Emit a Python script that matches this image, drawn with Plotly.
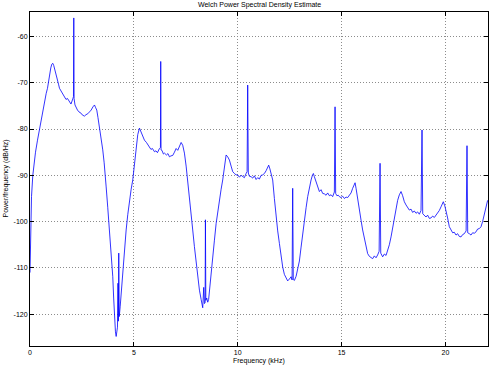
import plotly.graph_objects as go

# Frequency (kHz) and PSD (dB/Hz)
freq_khz = [
    0.000, 0.024, 0.072, 0.135, 0.202, 0.265, 0.361, 0.457, 0.520, 0.616,
    0.683, 0.780, 0.842, 0.938, 1.001, 1.049, 1.097, 1.145, 1.203, 1.261,
    1.323, 1.372, 1.420, 1.492, 1.564, 1.660, 1.732, 1.805, 1.901, 1.973,
    2.060, 2.093, 2.108, 2.122, 2.166, 2.223, 2.286, 2.358, 2.464, 2.527,
    2.623, 2.695, 2.782, 2.863, 2.945, 3.032, 3.104, 3.162, 3.215, 3.272,
    3.345, 3.426, 3.503, 3.571, 3.633, 3.667, 3.744, 3.826, 3.908, 3.985,
    4.028, 4.066, 4.114, 4.148, 4.177, 4.211, 4.235, 4.254, 4.273, 4.297,
    4.341, 4.403, 4.466, 4.548, 4.629, 4.706, 4.788, 4.870, 4.947, 5.029,
    5.111, 5.188, 5.270, 5.351, 5.428, 5.510, 5.606, 5.679, 5.751, 5.823,
    5.895, 5.991, 6.064, 6.136, 6.232, 6.280, 6.294, 6.309, 6.352, 6.424,
    6.473, 6.569, 6.641, 6.713, 6.785, 6.872, 6.954, 7.036, 7.113, 7.194,
    7.276, 7.353, 7.435, 7.517, 7.594, 7.676, 7.758, 7.834, 7.916, 7.998,
    8.075, 8.157, 8.239, 8.316, 8.364, 8.398, 8.431, 8.446, 8.465, 8.508,
    8.556, 8.600, 8.638, 8.720, 8.797, 8.879, 8.961, 9.038, 9.119, 9.201,
    9.278, 9.360, 9.442, 9.519, 9.601, 9.682, 9.759, 9.841, 9.923, 10.000,
    10.082, 10.163, 10.240, 10.322, 10.404, 10.452, 10.481, 10.510, 10.563, 10.645,
    10.722, 10.804, 10.886, 10.962, 11.044, 11.126, 11.203, 11.285, 11.367, 11.429,
    11.492, 11.550, 11.607, 11.684, 11.766, 11.848, 11.925, 12.007, 12.089, 12.166,
    12.247, 12.329, 12.406, 12.488, 12.570, 12.618, 12.647, 12.676, 12.729, 12.811,
    12.888, 12.970, 13.051, 13.128, 13.210, 13.292, 13.369, 13.451, 13.532, 13.595,
    13.643, 13.691, 13.773, 13.850, 13.932, 14.013, 14.090, 14.172, 14.254, 14.331,
    14.413, 14.495, 14.572, 14.653, 14.687, 14.716, 14.774, 14.846, 14.894, 14.976,
    15.053, 15.135, 15.217, 15.293, 15.375, 15.457, 15.534, 15.616, 15.650, 15.698,
    15.775, 15.857, 15.938, 16.015, 16.097, 16.179, 16.256, 16.338, 16.420, 16.497,
    16.578, 16.660, 16.737, 16.809, 16.853, 16.886, 16.978, 17.060, 17.142, 17.219,
    17.300, 17.382, 17.459, 17.541, 17.623, 17.700, 17.782, 17.863, 17.940, 18.022,
    18.104, 18.181, 18.263, 18.345, 18.421, 18.503, 18.585, 18.662, 18.744, 18.826,
    18.874, 18.907, 18.985, 19.066, 19.143, 19.225, 19.307, 19.384, 19.466, 19.548,
    19.625, 19.706, 19.788, 19.851, 19.899, 19.971, 20.029, 20.106, 20.188, 20.270,
    20.347, 20.429, 20.510, 20.587, 20.669, 20.751, 20.828, 20.910, 20.996, 21.039,
    21.073, 21.150, 21.232, 21.309, 21.391, 21.473, 21.550, 21.632, 21.713, 21.790,
    21.872, 21.954, 22.032,
]

psd_db = [
    -111.0, -101.0, -94.6, -90.0, -87.3, -85.0, -82.4, -80.0, -78.7, -75.9,
    -75.1, -72.3, -71.2, -67.8, -66.8, -66.0, -65.8, -66.3, -67.5, -68.7,
    -69.6, -70.3, -71.2, -71.8, -72.4, -73.0, -73.6, -73.4, -74.1, -74.6,
    -73.5, -73.0, -56.0, -73.4, -74.8, -75.5, -75.9, -76.3, -76.6, -77.0,
    -77.2, -76.9, -76.7, -76.3, -75.9, -75.2, -74.8, -75.4, -75.9, -77.5,
    -79.5, -82.0, -84.5, -87.3, -90.0, -92.5, -97.0, -101.8, -106.5, -111.9,
    -116.5, -121.3, -123.8, -124.8, -124.0, -122.8, -113.3, -121.5, -106.8, -120.5,
    -118.4, -114.5, -111.2, -106.5, -101.8, -98.5, -95.4, -93.0, -91.0, -87.5,
    -83.8, -81.2, -79.8, -80.6, -81.5, -82.4, -82.9, -83.5, -83.8, -84.4,
    -84.2, -84.9, -84.7, -85.1, -84.2, -84.0, -65.4, -84.5, -84.6, -85.4,
    -85.2, -85.6, -85.3, -86.0, -85.8, -85.7, -85.0, -84.2, -84.6, -83.6,
    -82.9, -83.5, -85.2, -88.0, -91.0, -94.6, -98.2, -101.8, -105.4, -109.0,
    -112.0, -114.8, -116.8, -118.6, -114.2, -117.7, -117.5, -99.6, -117.0, -116.5,
    -117.4, -116.8, -114.8, -111.5, -107.6, -104.0, -100.4, -97.8, -95.4, -93.0,
    -91.0, -87.8, -85.6, -86.0, -86.7, -88.0, -89.2, -89.6, -89.9, -89.9,
    -90.4, -90.0, -90.3, -90.5, -89.6, -89.2, -70.5, -89.5, -90.2, -90.3,
    -90.6, -90.1, -90.9, -90.5, -90.8, -90.0, -89.9, -89.6, -89.0, -88.2,
    -87.8, -88.6, -89.5, -91.0, -95.0, -99.0, -102.0, -104.7, -107.4, -109.8,
    -111.4, -112.3, -112.8, -112.4, -111.9, -112.6, -92.8, -112.5, -112.7, -111.8,
    -110.5, -108.5, -105.5, -102.5, -99.7, -97.0, -94.6, -92.5, -91.0, -90.0,
    -89.6, -90.3, -91.4, -92.2, -93.5, -93.1, -93.9, -94.0, -94.3, -93.8,
    -94.4, -94.2, -94.6, -93.6, -75.2, -93.9, -94.4, -94.3, -94.6, -94.8,
    -94.5, -95.0, -94.7, -94.8, -94.3, -93.8, -92.8, -92.1, -91.6, -92.8,
    -95.4, -98.0, -99.7, -101.8, -103.6, -105.4, -106.9, -107.5, -107.8, -108.0,
    -107.4, -107.8, -107.2, -106.4, -87.4, -106.8, -107.6, -107.0, -107.3, -106.2,
    -105.0, -103.3, -101.3, -99.0, -97.2, -95.4, -94.2, -93.5, -94.4, -95.7,
    -96.4, -97.0, -97.5, -97.3, -98.0, -97.7, -98.2, -97.9, -98.4, -97.6,
    -80.2, -98.3, -98.7, -99.0, -98.6, -99.3, -99.2, -98.8, -99.1, -98.6,
    -98.0, -97.6, -96.8, -96.0, -95.7, -96.6, -97.5, -99.2, -101.1, -101.9,
    -102.4, -102.3, -102.9, -102.6, -103.2, -103.3, -102.8, -102.6, -102.0, -83.6,
    -102.4, -102.6, -102.9, -102.4, -102.5, -102.2, -101.6, -101.5, -101.1, -100.0,
    -98.2, -97.2, -95.4,
]

x_ticks = [0, 5, 10, 15, 20]
y_ticks = [-120, -110, -100, -90, -80, -70, -60]

FONT = "Liberation Sans, Arial, sans-serif"

fig = go.Figure()
fig.add_trace(go.Scatter(
    x=freq_khz, y=psd_db, mode="lines",
    line=dict(color="#0000ff", width=0.8),
    hoverinfo="skip", showlegend=False,
))

axis_common = dict(
    showline=True, linecolor="black", linewidth=1, mirror="ticks",
    ticks="inside", ticklen=4, tickcolor="black", tickwidth=1,
    showgrid=True, gridcolor="#8c8c8c", griddash="1px,2px", gridwidth=1,
    zeroline=False, tickfont=dict(family=FONT, size=7, color="black"),
)

fig.update_layout(
    width=490, height=367, autosize=False,
    margin=dict(l=30, r=2, t=12, b=21),
    paper_bgcolor="white", plot_bgcolor="white",
    xaxis=dict(range=[0, 22.05], tickvals=x_ticks,
               ticktext=[str(v) for v in x_ticks], **axis_common),
    yaxis=dict(range=[-126.86, -54.72], tickvals=y_ticks,
               ticktext=[str(v) for v in y_ticks], **axis_common),
    annotations=[
        dict(text="Welch Power Spectral Density Estimate", xref="paper", yref="paper",
             x=0.5, y=1.0 + 6.5 / 334, xanchor="center", yanchor="middle",
             showarrow=False, font=dict(family=FONT, size=7, color="black")),
        dict(text="Frequency (kHz)", xref="paper", yref="paper",
             x=0.5, y=-14.5 / 334, xanchor="center", yanchor="middle",
             showarrow=False, font=dict(family=FONT, size=7, color="black")),
        dict(text="Power/frequency (dB/Hz)", xref="paper", yref="paper",
             x=-24.5 / 458, y=0.5, xanchor="center", yanchor="middle", textangle=-90,
             showarrow=False, font=dict(family=FONT, size=7, color="black")),
    ],
)

fig.write_html("out.html", config={"displayModeBar": False})
